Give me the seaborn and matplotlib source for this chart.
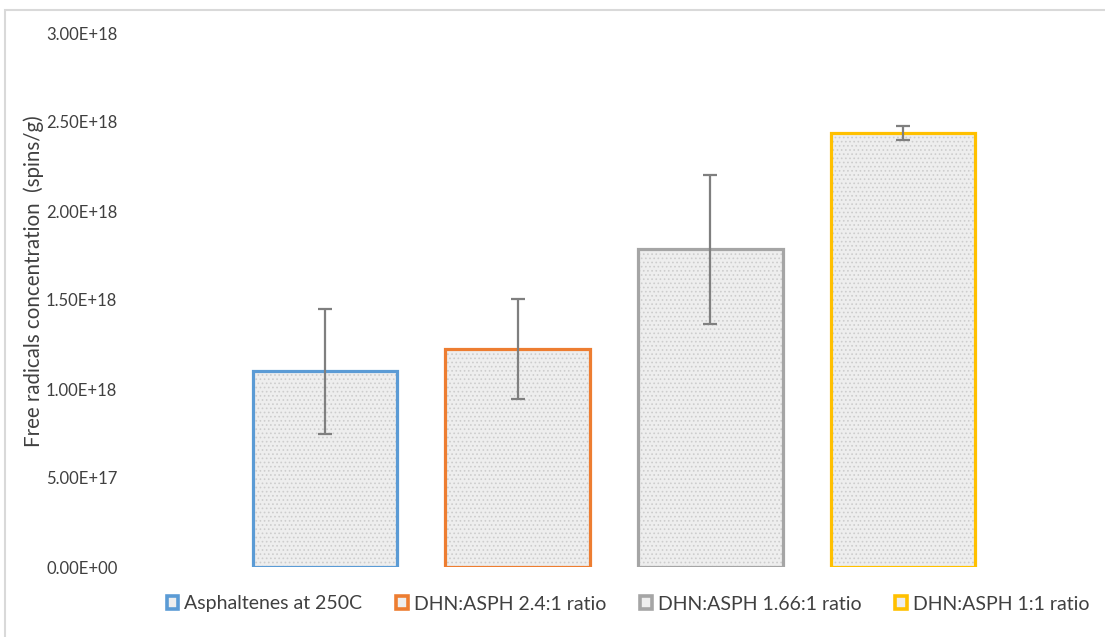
import matplotlib
matplotlib.use("Agg")
import matplotlib.pyplot as plt
from matplotlib.patches import Rectangle, Patch
import seaborn as sns
import pandas as pd

categories = ["Asphaltenes at 250C", "DHN:ASPH 2.4:1 ratio",
              "DHN:ASPH 1.66:1 ratio", "DHN:ASPH 1:1 ratio"]
values = [1.10e18, 1.225e18, 1.785e18, 2.44e18]
errors = [0.35e18, 0.28e18, 0.42e18, 0.04e18]
edge_colors = ["#5B9BD5", "#ED7D31", "#A5A5A5", "#FFC000"]
ytick_values = [0, 5e17, 1e18, 1.5e18, 2e18, 2.5e18, 3e18]
ytick_labels = ["0.00E+00", "5.00E+17", "1.00E+18", "1.50E+18",
                "2.00E+18", "2.50E+18", "3.00E+18"]

sns.set_theme(style="white")
plt.rcParams["font.family"] = ["Lato", "DejaVu Sans"]
plt.rcParams["hatch.linewidth"] = 0.7

df = pd.DataFrame({"cat": categories, "val": values})

fig = plt.figure(figsize=(11.05, 6.37), dpi=100)
ax = fig.add_axes([228.5 / 1105, 70 / 637, 771 / 1105, 534 / 637])

sns.barplot(data=df, x="cat", y="val", hue="cat", palette=["#eeeeee"] * 4,
            legend=False, errorbar=None, width=0.75, ax=ax, saturation=1)

centers = []
for patch, ec in zip(ax.patches, edge_colors):
    patch.set_facecolor("#eeeeee")
    patch.set_edgecolor("#cdcdcd")
    patch.set_hatch("....")
    patch.set_linewidth(0)
    x, y = patch.get_x(), patch.get_y()
    w, h = patch.get_width(), patch.get_height()
    ax.add_patch(Rectangle((x, y), w, h, fill=False, edgecolor=ec,
                           linewidth=2.3, zorder=3))
    centers.append(x + w / 2)

ax.errorbar(centers, values, yerr=errors, fmt="none", ecolor="#7f7f7f",
            elinewidth=1.6, capsize=5, capthick=1.6, zorder=4)

ax.set_xlim(-0.5, 3.5)
ax.set_ylim(0, 3e18)
ax.set_yticks(ytick_values)
ax.set_yticklabels(ytick_labels, fontsize=12, color="#404040")
ax.tick_params(axis="y", length=0, pad=80)
ax.set_xticks([])
ax.set_xlabel("")
ax.set_ylabel("Free radicals concentration  (spins/g)", fontsize=14.8,
              color="#404040")
ax.yaxis.set_label_coords(-0.2395, 0.535)
for s in ax.spines.values():
    s.set_visible(False)

handles = [Patch(facecolor="#eeeeee", edgecolor=c, linewidth=2.6)
           for c in edge_colors]
fig.legend(handles, categories, loc="center",
           bbox_to_anchor=(628 / 1105, 1 - 604 / 637),
           ncol=4, frameon=False, fontsize=14, handlelength=0.6,
           handleheight=0.6, handletextpad=0.3, columnspacing=1.75,
           labelcolor="#404040")

fig.add_artist(Rectangle((5 / 1105, -0.05), 1.2, 1.05 - 9.5 / 637,
                         transform=fig.transFigure, fill=False,
                         edgecolor="#d9d9d9", linewidth=1.5))

fig.savefig("out.png", dpi=100)
